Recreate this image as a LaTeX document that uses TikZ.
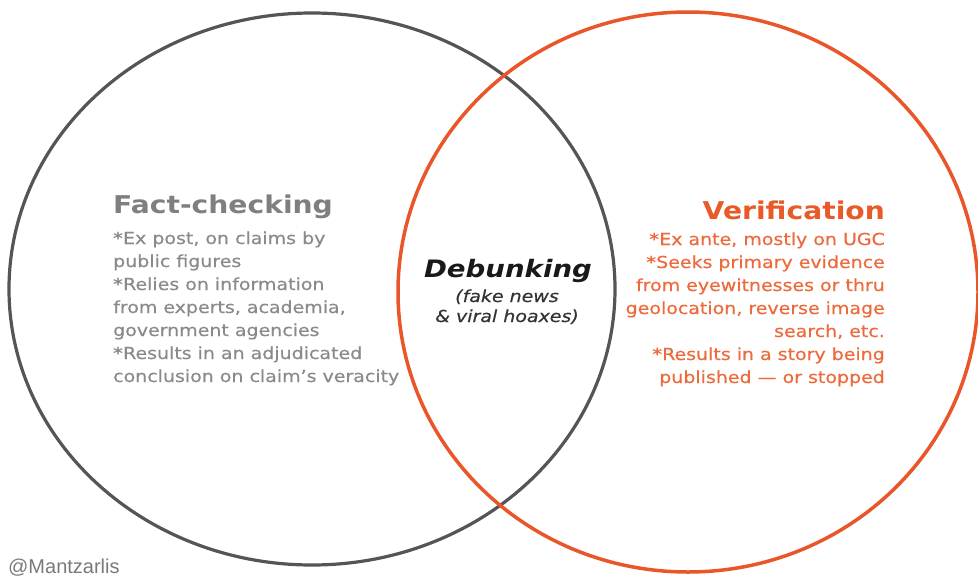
\documentclass[tikz,border=0pt]{standalone}
\usepackage{fontspec}
\newfontfamily\vfont[FakeStretch=1.15]{DejaVu Sans}
\newfontfamily\vbodyfont[FakeStretch=1.15,FakeBold=0.4]{DejaVu Sans}
\newfontfamily\tagfont{Liberation Sans}
\definecolor{circgray}{HTML}{555555}
\definecolor{circorange}{HTML}{E8562A}
\definecolor{headgray}{HTML}{7F7F7F}
\definecolor{bodygray}{HTML}{8A8A8A}
\definecolor{headorange}{HTML}{E85A28}
\definecolor{bodyorange}{HTML}{EC6A3C}
\definecolor{tagcol}{HTML}{7A7A7A}
\newcommand{\bulletstar}{{\vfont\bfseries *}}
\tikzset{
  heading/.style={inner sep=0pt, font=\vfont\fontsize{24.5}{28}\selectfont\bfseries},
  body/.style={inner sep=0pt, font=\vbodyfont\fontsize{16.5}{23}\selectfont},
}
\begin{document}
\begin{tikzpicture}[x=1pt,y=-1pt]
\useasboundingbox (0,0) rectangle (978,579);
\fill[white] (0,0) rectangle (978,579);
% circles
\draw[circgray, line width=3.2pt] (312,289) ellipse [x radius=303pt, y radius=276pt];
\draw[circorange, line width=3.5pt] (688,292) ellipse [x radius=290pt, y radius=280pt];
% left block
\node[heading, text=headgray, anchor=base west] (fc) at (113,213) {Fact-checking};
\foreach \t [count=\i] in {{\bulletstar Ex post, on claims by},{public figures},{\bulletstar Relies on information},{from experts, academia,},{government agencies},{\bulletstar Results in an adjudicated},{conclusion on claim’s veracity}}
  \node[body, text=bodygray, anchor=base west] (fcl\i) at (113,{244+23*(\i-1)}) {\t};
% right block
\node[heading, text=headorange, anchor=base east] (ver) at (885,219) {Verification};
\foreach \t [count=\i] in {{\bulletstar Ex ante, mostly on UGC},{\bulletstar Seeks primary evidence},{from eyewitnesses or thru},{geolocation, reverse image},{search, etc.},{\bulletstar Results in a story being},{published — or stopped}}
  \node[body, text=bodyorange, anchor=base east] (verl\i) at (885,{245+23*(\i-1)}) {\t};
% centre
\node[inner sep=0pt, anchor=base, font=\vfont\fontsize{24}{28}\selectfont\bfseries\itshape, text=black!90] (deb) at (508,277) {Debunking};
\node[inner sep=0pt, text=black!80, anchor=base, font=\vbodyfont\fontsize{16.5}{20}\selectfont\itshape] (deb1) at (507,302) {(fake news};
\node[inner sep=0pt, text=black!80, anchor=base, font=\vbodyfont\fontsize{16.5}{20}\selectfont\itshape] (deb2) at (507,322) {\& viral hoaxes)};
% tag
\node[inner sep=0pt, anchor=base west, font=\tagfont\fontsize{20}{24}\selectfont, text=tagcol] (tag) at (8,573) {@Mantzarlis};
\end{tikzpicture}
\end{document}
